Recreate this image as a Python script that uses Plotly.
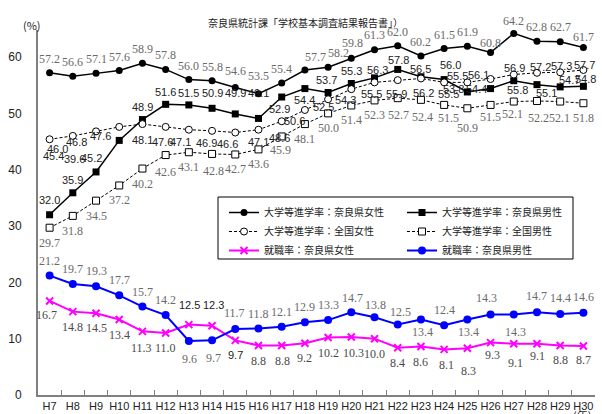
import plotly.graph_objects as go

# ---------------- data ----------------
years = ["H7", "H8", "H9", "H10", "H11", "H12", "H13", "H14", "H15", "H16", "H17", "H18",
         "H19", "H20", "H21", "H22", "H23", "H24", "H25", "H26", "H27", "H28", "H29", "H30"]

univ_nara_female = [57.2, 56.6, 57.1, 57.6, 58.9, 57.8, 56.0, 55.8, 54.6, 53.5, 55.4, 57.7,
                    58.2, 59.8, 61.3, 62.0, 60.2, 61.5, 61.9, 60.8, 64.2, 62.8, 62.7, 61.7]
univ_nara_male = [32.0, 35.9, 39.6, 45.2, 48.9, 51.6, 51.5, 50.9, 49.9, 49.1, 52.9, 54.4,
                  53.7, 55.3, 56.3, 57.8, 56.5, 56.0, 53.8, 54.4, 55.8, 55.1, 54.7, 54.8]
univ_nat_female = [45.4, 46.0, 46.8, 47.6, 48.1, 47.6, 47.1, 46.9, 46.6, 47.1, 48.6, 50.6,
                   52.5, 54.3, 55.5, 55.9, 56.2, 55.5, 55.5, 56.1, 56.9, 57.2, 57.3, 57.7]
univ_nat_male = [29.7, 31.8, 34.5, 37.2, 40.2, 42.6, 43.1, 42.8, 42.7, 43.6, 45.9, 48.1,
                 50.0, 51.4, 52.3, 52.7, 52.4, 51.5, 50.9, 51.5, 52.1, 52.2, 52.1, 51.8]
emp_nara_female = [16.7, 14.8, 14.5, 13.4, 11.3, 11.0, 12.5, 12.3, 9.7, 8.8, 8.8, 9.2,
                   10.2, 10.3, 10.0, 8.4, 8.6, 8.1, 8.3, 9.3, 9.1, 9.1, 8.8, 8.7]
emp_nara_male = [21.2, 19.7, 19.3, 17.7, 15.7, 14.2, 9.6, 9.7, 11.7, 11.8, 12.1, 12.9,
                 13.3, 14.7, 13.8, 12.5, 13.4, 12.4, 13.4, 14.3, 14.3, 14.7, 14.4, 14.6]

y_ticks = [0, 10, 20, 30, 40, 50, 60]

names = ["大学等進学率：奈良県女性", "大学等進学率：奈良県男性",
         "大学等進学率：全国女性", "大学等進学率：全国男性",
         "就職率：奈良県女性", "就職率：奈良県男性"]

# ---------------- label placement (pixel offsets, dx right, dy down) ----------------
SERIF = dict(family="Liberation Serif", size=12, color="#6a6a6a")
SERIF_D = dict(family="Liberation Serif", size=12, color="#4a4a4a")
SANS = dict(family="Liberation Sans", size=11, color="#222222")

label_default = {
    "F": (0, -14), "M": (0, -13), "NF": (0, 12), "NM": (0, 15), "EF": (0, 15), "EM": (0, -15),
}
label_over = {
    "F": {"H15": (0, -16), "H16": (0, -18), "H18": (11, -13), "H19": (10, -14), "H20": (1, -15),
          "H21": (0, -15), "H26": (0, -10), "H27": (0, -12), "H29": (0, -15), "H30": (0, -10)},
    "M": {"H7": (0, -15), "H9": (-22, -13), "H10": (-28, 18), "H12": (0, -12), "H13": (0, -12),
          "H14": (0, -15), "H15": (0, -21), "H16": (0, -25), "H17": (-2, 12), "H18": (0, 11),
          "H19": (-2, -13), "H21": (3, -8), "H22": (1, -9), "H23": (0, -8), "H24": (6, -15),
          "H25": (-14, -3), "H26": (-14, 0), "H27": (4, 9), "H28": (10, 8), "H29": (9, -7),
          "H30": (2, -7)},
    "NF": {"H7": (4, 17), "H8": (-15, 13), "H9": (-20, 11), "H10": (-19, 9), "H11": (0, 16),
           "H12": (-3, 15), "H13": (-8, 12), "H14": (-6, 12), "H15": (-8, 11), "H17": (-2, 17),
           "H18": (-10, 11), "H19": (-5, 8), "H20": (-6, 11), "H21": (-3, 12), "H22": (-1, 14),
           "H23": (3, 15), "H24": (4, 12), "H25": (-10, -6), "H26": (-12, -4), "H27": (1, -7),
           "H28": (4, -6), "H29": (1, -6), "H30": (1, -5)},
    "NM": {"H12": (0, 17), "H14": (1, 17), "H17": (-1, 14), "H22": (1, 17), "H23": (2, 17),
           "H24": (4, 13), "H25": (0, 20), "H26": (0, 12), "H27": (-1, 12), "H28": (2, 17),
           "H29": (-1, 16)},
    "EF": {"H7": (-3, 14), "H11": (-1, 17), "H13": (1, -20), "H14": (1, -21), "H16": (0, 16),
           "H17": (1, 16), "H20": (2, 16), "H24": (2, 16), "H25": (1, 23), "H26": (2, 12),
           "H27": (2, 19), "H28": (1, 12), "H30": (0, 14)},
    "EM": {"H13": (1, 18), "H14": (1, 18), "H15": (-1, -16), "H20": (1, -14), "H21": (1, -12),
           "H22": (3, -13), "H23": (2, 12), "H25": (1, 12), "H26": (-4, -16), "H27": (2, 18),
           "H28": (0, -16), "H29": (0, -16), "H30": (0, -16)},
}
label_font = {"F": SERIF, "M": SANS, "NF": SANS, "NM": SERIF, "EF": SERIF_D, "EM": SERIF}
font_over = {"EF": {"H13": SANS, "H14": SANS, "H15": SANS}}

series = [
    ("F", names[0], univ_nara_female, "legend",
     dict(color="black", width=1.5), dict(symbol="circle", size=7, color="black")),
    ("M", names[1], univ_nara_male, "legend2",
     dict(color="black", width=1.5), dict(symbol="square", size=7, color="black")),
    ("NF", names[2], univ_nat_female, "legend",
     dict(color="black", width=1, dash="3px,2px"),
     dict(symbol="circle", size=7, color="white", line=dict(color="black", width=1))),
    ("NM", names[3], univ_nat_male, "legend2",
     dict(color="black", width=1, dash="3px,2px"),
     dict(symbol="square", size=7, color="white", line=dict(color="black", width=1))),
    ("EF", names[4], emp_nara_female, "legend",
     dict(color="#ff00ff", width=2),
     dict(symbol="x-thin-open", size=7, color="#ff00ff", line=dict(color="#ff00ff", width=2))),
    ("EM", names[5], emp_nara_male, "legend2",
     dict(color="#0000ff", width=2), dict(symbol="circle", size=8, color="#0000ff")),
]

fig = go.Figure()
annotations = []
for key, name, vals, leg, line, marker in series:
    fig.add_trace(go.Scatter(x=years, y=vals, name=name, mode="lines+markers",
                             line=line, marker=marker, legend=leg, cliponaxis=False))
    for yr, v in zip(years, vals):
        dx, dy = label_over[key].get(yr, label_default[key])
        fnt = font_over.get(key, {}).get(yr, label_font[key])
        annotations.append(dict(x=yr, y=v, xref="x", yref="y", text=f"{v:.1f}",
                                showarrow=False, xshift=dx, yshift=-dy, font=fnt))

# ---------------- layout ----------------
W, H = 602, 414
ML, MR, MT, MB = 38, 7, 30, 19
PW, PH = W - ML - MR, H - MT - MB


def px_x(p):
    return (p - ML) / PW


def px_y(p):
    return (H - MB - p) / PH


CJK = "Noto Sans CJK JP"
annotations += [
    dict(text="奈良県統計課「学校基本調査結果報告書」）", xref="paper", yref="paper",
         x=px_x(305), y=px_y(13), showarrow=False, font=dict(family=CJK, size=10, color="#222")),
    dict(text="(%)", xref="paper", yref="paper", x=px_x(21), y=px_y(15), showarrow=False,
         font=dict(family=CJK, size=11, color="#222")),
    dict(text="(年)", xref="paper", yref="paper", x=px_x(582), y=px_y(415), showarrow=False,
         xanchor="center", yanchor="middle",
         font=dict(family=CJK, size=11, color="#222")),
]

legend_common = dict(orientation="v", bgcolor="rgba(0,0,0,0)", borderwidth=0,
                     font=dict(family=CJK, size=10, color="#222"), itemwidth=30,
                     tracegroupgap=0, xanchor="left", yanchor="top", traceorder="normal")

fig.update_layout(
    width=W, height=H,
    margin=dict(l=ML, r=MR, t=MT, b=MB, autoexpand=False),
    paper_bgcolor="white", plot_bgcolor="white",
    showlegend=True,
    legend=dict(x=px_x(224), y=px_y(198), **legend_common),
    legend2=dict(x=px_x(402), y=px_y(198), **legend_common),
    annotations=annotations,
    shapes=[dict(type="rect", xref="paper", yref="paper", x0=px_x(218), x1=px_x(573),
                 y0=px_y(259), y1=px_y(197), line=dict(color="black", width=1),
                 fillcolor="white", layer="above")],
    xaxis=dict(type="category", categoryorder="array", categoryarray=years,
               range=[-0.5, 23.5], showgrid=False, zeroline=False, automargin=False,
               showline=True, linecolor="#808080", linewidth=2, tickangle=0,
               ticks="inside", tickson="boundaries", ticklen=5, tickcolor="#808080",
               tickfont=dict(family="Liberation Sans", size=11, color="#222")),
    yaxis=dict(range=[0, 64.8], tickvals=y_ticks, showgrid=False, zeroline=False,
               showline=True, linecolor="#808080", linewidth=2, ticks="", automargin=False,
               ticklabelstandoff=12,
               tickfont=dict(family="Liberation Sans", size=12, color="#222")),
)

fig.write_html("out.html")
